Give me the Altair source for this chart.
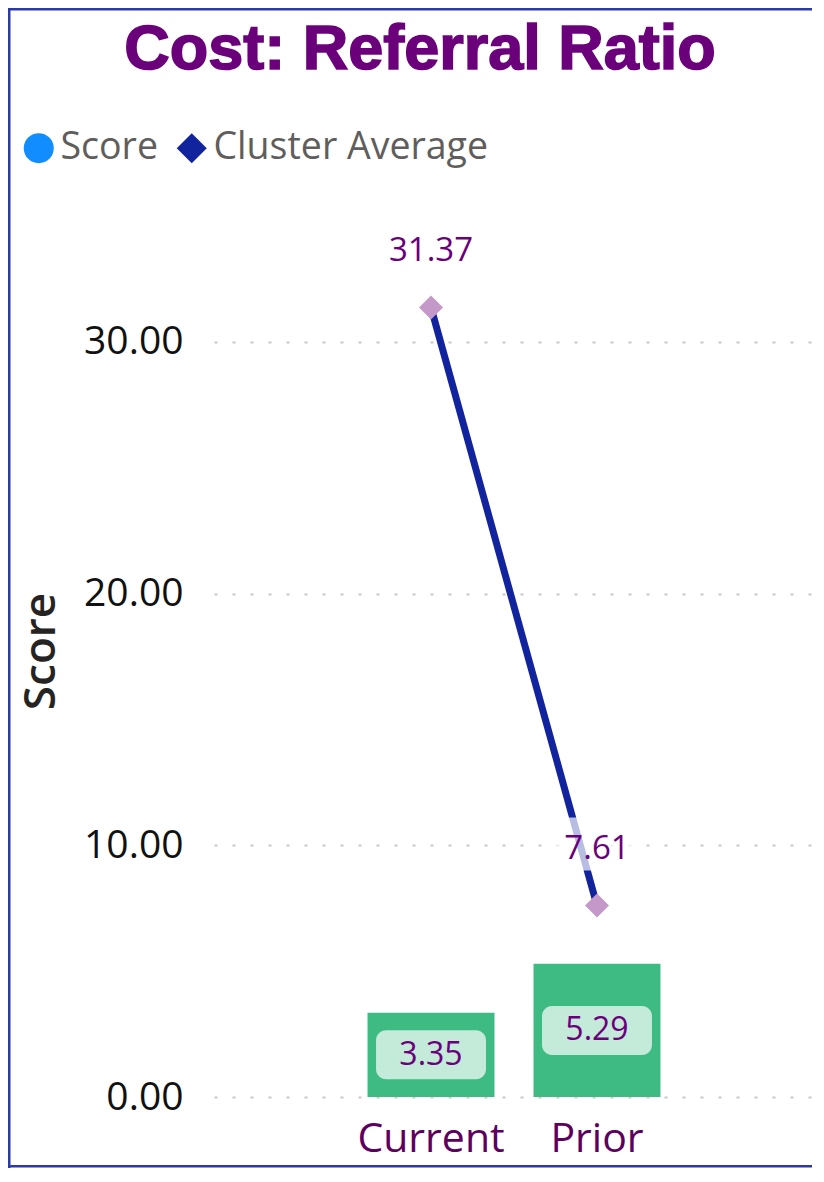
import altair as alt
import pandas as pd

# ---- data ----
categories = ["Current", "Prior"]
scores = [3.35, 5.29]
cluster_avg = [31.37, 7.61]
series = ["Score", "Cluster Average"]
series_colors = ["#118DFF", "#12239E"]
series_shapes = ["circle", "diamond"]
y_ticks = [0, 10, 20, 30]
chart_title = "Cost: Referral Ratio"

df = pd.DataFrame({"Category": categories, "Score": scores, "ClusterAverage": cluster_avg})
legend_df = pd.DataFrame({"Series": series, "Category": [categories[0]] * len(series), "v": [0.0] * len(series)})

PLOT_W = 600
PLOT_H = 892
Y_MAX = 35.44
PX = PLOT_H / Y_MAX  # pixels per unit

FONT = "Open Sans"
PURPLE = "#6B007B"
FRAME = "#2A3BA8"

x_scale = alt.Scale(paddingInner=0.235, paddingOuter=0.925)
y_scale = alt.Scale(domain=[0, Y_MAX], nice=False, zero=True)


def X():
    return alt.X("Category:N", sort=categories, scale=x_scale, title=None)


base = alt.Chart(df)

bars = base.mark_bar(color="#3DBB82").encode(
    x=X(),
    y=alt.Y("Score:Q", scale=y_scale, title="Score",
            axis=alt.Axis(values=y_ticks, format=".2f")),
)

half_box = 49 / PX / 2
boxes = base.transform_calculate(
    lo=f"datum.Score / 2 - {half_box}", hi=f"datum.Score / 2 + {half_box}"
).mark_bar(color="#C4EAD9", cornerRadius=10, width=alt.RelativeBandSize(0.866)).encode(
    x=X(), y=alt.Y("lo:Q", scale=y_scale, title="Score"), y2="hi:Q"
)

bar_text = base.transform_calculate(mid="datum.Score / 2").mark_text(
    fontSize=32, font=FONT, color=PURPLE, baseline="middle"
).encode(
    x=X(), y=alt.Y("mid:Q", scale=y_scale, title="Score"),
    text=alt.Text("Score:Q", format=".2f"),
)

line = base.mark_line(color="#12239E", strokeWidth=7).encode(
    x=X(), y=alt.Y("ClusterAverage:Q", scale=y_scale, title="Score")
)

diamonds = base.mark_point(shape="diamond", filled=True, size=576, color="#C499CA", opacity=1).encode(
    x=X(), y=alt.Y("ClusterAverage:Q", scale=y_scale, title="Score")
)

label_bg = base.transform_calculate(
    lo=f"datum.ClusterAverage + {35 / PX}", hi=f"datum.ClusterAverage + {88 / PX}"
).mark_bar(color="white", opacity=0.7, width=alt.RelativeBandSize(0.63)).encode(
    x=X(), y=alt.Y("lo:Q", scale=y_scale, title="Score"), y2="hi:Q"
)

line_text = base.mark_text(
    fontSize=33, font=FONT, color=PURPLE, baseline="alphabetic", dy=-46
).encode(
    x=X(), y=alt.Y("ClusterAverage:Q", scale=y_scale, title="Score"),
    text=alt.Text("ClusterAverage:Q", format=".2f"),
)

leg = alt.Legend(
    title=None, orient="none", legendX=-194, legendY=-76, direction="horizontal",
    symbolSize=900, symbolOpacity=1, symbolStrokeWidth=0,
    labelFontSize=37.5, labelFont=FONT, labelColor="#605E5C", labelOffset=3,
    labelLimit=400, columnPadding=15, padding=0, rowPadding=0,
)
legend_layer = alt.Chart(legend_df).mark_point(filled=True, opacity=0).encode(
    x=X(),
    y=alt.Y("v:Q", scale=y_scale, title="Score"),
    color=alt.Color("Series:N", sort=series,
                    scale=alt.Scale(domain=series, range=series_colors), legend=leg),
    shape=alt.Shape("Series:N", sort=series,
                    scale=alt.Scale(domain=series, range=series_shapes), legend=leg),
)

title_text = alt.Chart(pd.DataFrame({"t": [chart_title]})).mark_text(
    font="Liberation Sans", fontSize=63, fontWeight="bold", color=PURPLE,
    stroke=PURPLE, strokeWidth=1.6, align="center", baseline="alphabetic",
).encode(
    text="t:N", x=alt.value(206), y=alt.value(-136)
)

one = pd.DataFrame({"k": [0]})


def frame_side(x0, x1, y0, y1):
    return alt.Chart(one).mark_rect(color=FRAME, opacity=1).encode(
        x=alt.value(x0), x2=alt.value(x1), y=alt.value(y0), y2=alt.value(y1)
    )


frame_top = frame_side(-206, PLOT_W - 2, -197, -194.5)
frame_left = frame_side(-206, -203.5, -197, PLOT_H + 71)
frame_bottom = frame_side(-206, PLOT_W - 2, PLOT_H + 68, PLOT_H + 70.5)

chart = alt.layer(
    bars, boxes, bar_text, line, diamonds, label_bg, line_text, legend_layer,
    title_text, frame_top, frame_left, frame_bottom
).properties(
    width=PLOT_W,
    height=PLOT_H,
    padding={"left": 206, "top": 197, "right": 2, "bottom": 71},
    autosize=alt.AutoSizeParams(type="none"),
    background="white",
).configure_view(
    strokeWidth=0
).configure_axisY(
    grid=True, gridDash=[3, 15], gridColor="#C8C8C8", gridWidth=2,
    domain=False, ticks=False, tickSize=0,
    labelFontSize=39, labelFont=FONT, labelColor="#111111", labelPadding=31,
    titleFontSize=44, titleFont=FONT, titleFontWeight=600, titleColor="#252423",
    titlePadding=20,
).configure_axisX(
    grid=False, domain=False, ticks=False, tickSize=0, labelAngle=0,
    labelFontSize=41, labelFont=FONT, labelColor="#5E005E", labelPadding=22,
)

chart.save("out.html", embed_options={"renderer": "svg", "actions": False})
